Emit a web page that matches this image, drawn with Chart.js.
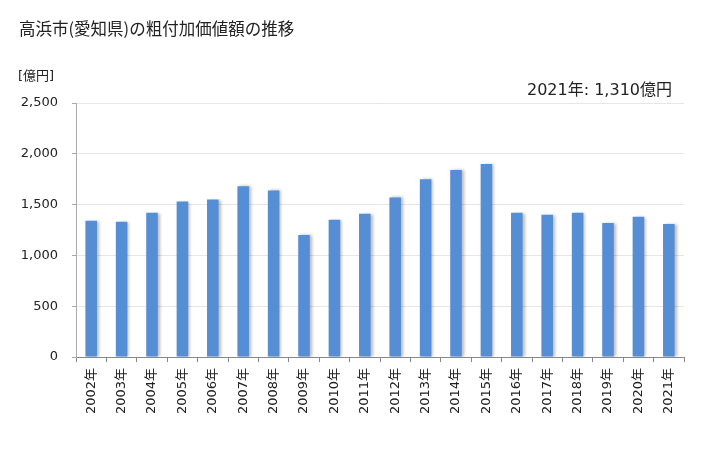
<!DOCTYPE html>
<html>
<head>
<meta charset="utf-8">
<script src="https://cdn.jsdelivr.net/npm/chart.js@4/dist/chart.umd.min.js"></script>
<style>
  body { margin: 0; background: #fff; }
  #wrap { position: relative; width: 728px; height: 450px; font-family: "DejaVu Sans", "Noto Sans CJK JP", sans-serif; color: #222; }
  #title { position: absolute; left: 19px; top: 16px; font-size: 16.5px; font-family: "Noto Sans CJK JP", sans-serif; }
  #unit { position: absolute; left: 18px; top: 65px; font-size: 13px; font-family: "DejaVu Sans", "Noto Sans CJK JP", sans-serif; }
  #note { position: absolute; right: 56px; top: 76px; font-size: 16px; font-family: "DejaVu Sans", "Noto Sans CJK JP", sans-serif; }
  canvas { position: absolute; left: 0; top: 0; }
</style>
</head>
<body>
<div id="wrap">
  <canvas id="myChart" width="728" height="450"></canvas>
  <div id="title">高浜市(愛知県)の粗付加価値額の推移</div>
  <div id="unit">[億円]</div>
  <div id="note">2021年: 1,310億円</div>
</div>
<script>
const years = ['2002年', '2003年', '2004年', '2005年', '2006年', '2007年', '2008年', '2009年', '2010年', '2011年',
    '2012年', '2013年', '2014年', '2015年', '2016年', '2017年', '2018年', '2019年', '2020年', '2021年'];
const values = [1340, 1330, 1420, 1530, 1550, 1680, 1640, 1200, 1350, 1410,
    1570, 1750, 1840, 1900, 1420, 1400, 1420, 1320, 1380, 1310];
const yTicks = [0, 500, 1000, 1500, 2000, 2500];

// 棒の影
const barShadow = {
    id: 'barShadow',
    beforeDatasetDraw(chart) {
        const ctx = chart.ctx;
        ctx.save();
        ctx.shadowColor = 'rgba(0,0,0,0.28)';
        ctx.shadowBlur = 3;
        ctx.shadowOffsetX = 2;
        ctx.shadowOffsetY = 0;
    },
    afterDatasetDraw(chart) {
        chart.ctx.restore();
    }
};

const ctx = document.getElementById('myChart').getContext('2d');
new Chart(ctx, {
    type: 'bar',
    data: {
        labels: years,
        datasets: [{
            data: values,
            backgroundColor: '#558ed5',
            barPercentage: 0.38,
            categoryPercentage: 1.0
        }]
    },
    options: {
        responsive: false,
        animation: false,
        layout: { padding: { top: 103, right: 44, left: 0, bottom: 0 } },
        plugins: {
            legend: { display: false },
            tooltip: { enabled: false }
        },
        scales: {
            x: {
                grid: { drawOnChartArea: false, color: '#888', tickLength: 5, offset: true },
                border: { color: '#888' },
                ticks: {
                    color: '#222',
                    font: { family: '"DejaVu Sans", "Noto Sans CJK JP"', size: 13 },
                    maxRotation: 90,
                    minRotation: 90,
                    padding: 6
                },
                afterFit(scale) { scale.height = 450 - 357; }
            },
            y: {
                min: 0,
                max: 2500,
                afterBuildTicks(scale) { scale.ticks = yTicks.map(v => ({ value: v })); },
                grid: { color: '#e6e6e6', tickColor: '#aaa', tickLength: 4 },
                border: { color: '#aaa' },
                ticks: {
                    color: '#222',
                    font: { family: '"DejaVu Sans"', size: 13 },
                    padding: 14,
                    callback: v => v.toLocaleString('en-US')
                },
                afterFit(scale) { scale.width = 76; }
            }
        }
    },
    plugins: [barShadow]
});
</script>
</body>
</html>
